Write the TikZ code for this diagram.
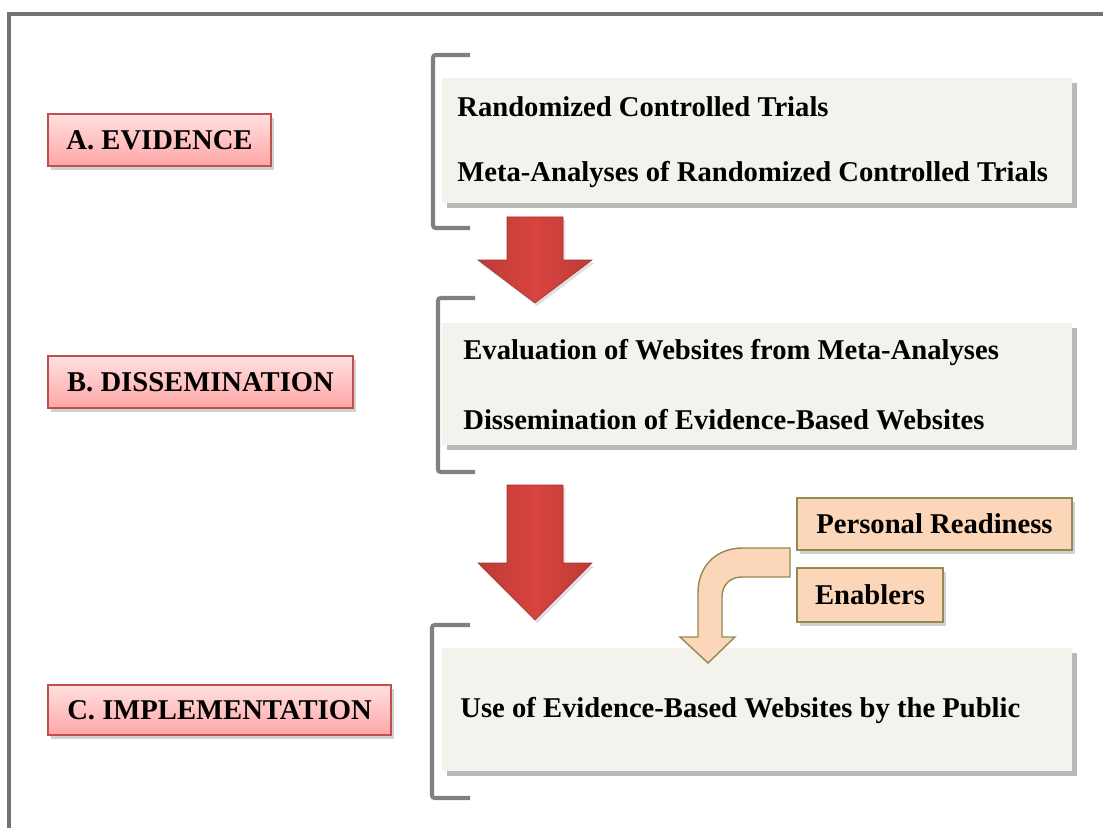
\documentclass[tikz,border=0pt]{standalone}
\usepackage{fontspec}
\setmainfont{Liberation Serif}
\usetikzlibrary{shadows}

\definecolor{stagered}{HTML}{C0504D}
\definecolor{paper}{HTML}{F3F2ED}
\definecolor{peach}{HTML}{FBD6B8}
\definecolor{olive}{HTML}{948A54}
\definecolor{arrowred}{HTML}{D8433E}
\definecolor{bracketgray}{HTML}{808080}

\tikzset{
  stage/.style={draw=stagered, line width=0.8pt, top color=red!12, bottom color=red!35,
    font=\fontsize{16.3}{19}\selectfont\bfseries, inner sep=0pt,
    drop shadow={opacity=0.35, shadow xshift=0.6mm, shadow yshift=-0.8mm}},
  panel/.style={fill=paper, inner sep=0pt,
    drop shadow={opacity=0.55, shadow xshift=1mm, shadow yshift=-1mm}},
  item/.style={anchor=west, inner sep=0pt, font=\fontsize{16.3}{19}\selectfont\bfseries},
  factor/.style={draw=olive, line width=0.8pt, fill=peach, inner sep=0pt,
    font=\fontsize{16.3}{19}\selectfont\bfseries,
    drop shadow={opacity=0.35, shadow xshift=0.6mm, shadow yshift=-0.8mm}},
  bracket/.style={draw=bracketgray, line width=2.3pt, rounded corners=1.5pt},
  blockarrow/.style={left color=arrowred!88!black, right color=arrowred!88!black,
    middle color=arrowred, draw=arrowred!75!black, line width=0.3pt,
    drop shadow={opacity=0.25, shadow xshift=0.4mm, shadow yshift=-0.6mm}},
}

\begin{document}
\begin{tikzpicture}[x=0.02cm, y=-0.02cm]
  \useasboundingbox (0,0) rectangle (1103,828);
  \fill[white] (0,0) rectangle (1103,828);
  % outer frame
  \draw[line width=1.8pt, black!55] (9,830)--(9,14)--(1105,14);

  % stage labels
  \node[stage, minimum width=4.46cm, minimum height=1.04cm] (evid) at (159.5,140) {A. EVIDENCE};
  \node[stage, minimum width=6.1cm, minimum height=1.04cm] (diss) at (200.5,382) {B. DISSEMINATION};
  \node[stage, minimum width=6.86cm, minimum height=1.0cm] (impl) at (219.5,710) {C. IMPLEMENTATION};

  % panels
  \node[panel, minimum width=12.6cm, minimum height=2.5cm] (p1) at (757,140.5) {};
  \node[panel, minimum width=12.6cm, minimum height=2.44cm] (p2) at (757,384) {};
  \node[panel, minimum width=12.6cm, minimum height=2.46cm] (p3) at (757,709.5) {};

  \node[item] (rct) at (457,107) {Randomized Controlled Trials};
  \node[item] (meta) at (457,175) {Meta-Analyses of Randomized Controlled Trials};
  \node[item] (eval) at (463,353) {Evaluation of Websites from Meta-Analyses};
  \node[item] (dweb) at (463,420) {Dissemination of Evidence-Based Websites};
  \node[item] (use) at (460,711) {Use of Evidence-Based Websites by the Public};

  % brackets
  \draw[bracket] (470,55)--(433,55)--(433,228)--(470,228);
  \draw[bracket] (475,298)--(438,298)--(438,472)--(475,472);
  \draw[bracket] (470,625)--(432,625)--(432,798)--(470,798);

  % red arrows
  \draw[blockarrow] (507,217)--(563,217)--(563,260)--(592,260)--(535,303)--(478,260)--(507,260)--cycle;
  \draw[blockarrow] (507,485)--(563,485)--(563,563)--(592,563)--(535,620)--(478,563)--(507,563)--cycle;

  % factors
  \node[factor, minimum width=5.5cm, minimum height=1.04cm] (ready) at (934.5,524) {Personal Readiness};
  \node[factor, minimum width=2.92cm, minimum height=1.08cm] (enab) at (870,595) {Enablers};

  % bent arrow
  \draw[draw=olive, line width=0.8pt, fill=peach]
    (790,548)--(743,548) .. controls (716,548) and (698,566) .. (698,593)
    --(698,637)--(680,637)--(708,663)--(735,637)--(722,637)--(722,597)
    .. controls (722,585) and (730,577) .. (742,577)--(790,577)--cycle;
\end{tikzpicture}
\end{document}
